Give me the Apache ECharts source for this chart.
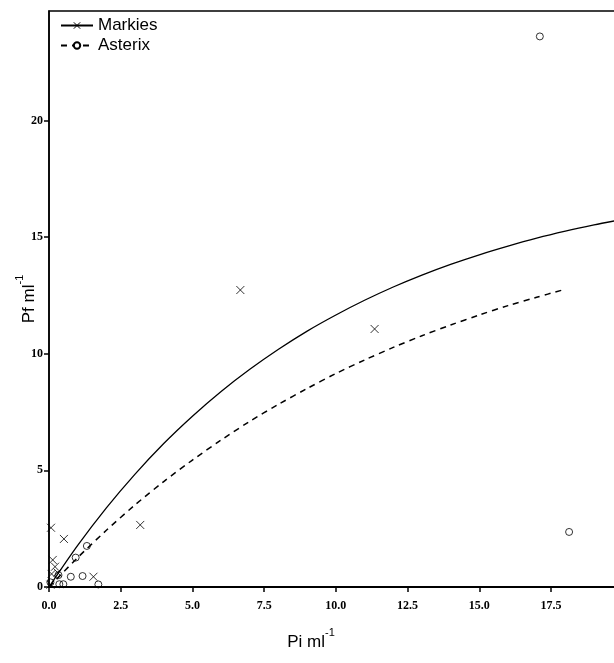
<!DOCTYPE html>
<html>
<head>
<meta charset="utf-8">
<script src="https://cdn.jsdelivr.net/npm/echarts@6/dist/echarts.min.js"></script>
<style>
html,body{margin:0;padding:0;background:#fff;}
#chart{width:614px;height:663px;}
</style>
</head>
<body>
<div id="chart"></div>
<script>
// Observed points (Pi ml-1, Pf ml-1)
const markiesPoints = [
  [0.07, 2.54], [0.52, 2.06], [0.13, 1.16], [0.21, 0.87], [0.09, 0.56],
  [0.30, 0.62], [1.55, 0.44], [0.05, 0.10], [3.18, 2.66], [6.67, 12.73], [11.35, 11.06]
];
const asterixPoints = [
  [0.93, 1.26], [1.32, 1.76], [0.76, 0.44], [1.17, 0.47], [1.72, 0.11],
  [0.33, 0.51], [0.36, 0.12], [0.50, 0.12], [0.05, 0.20], [17.11, 23.60], [18.13, 2.36]
];
// Fitted curves
const markiesCurve = [
  [0, 0], [1, 1.78], [2, 3.39], [3, 4.84], [4, 6.15], [5, 7.32], [6, 8.38], [7, 9.33],
  [8, 10.19], [9, 10.97], [10, 11.66], [11, 12.29], [12, 12.86], [13, 13.37], [14, 13.83],
  [15, 14.24], [16, 14.61], [17, 14.95], [18, 15.25], [19, 15.52], [19.7, 15.69]
];
const asterixCurve = [
  [0, 0], [1, 1.26], [2, 2.43], [3, 3.52], [4, 4.52], [5, 5.44], [6, 6.30], [7, 7.10],
  [8, 7.83], [9, 8.51], [10, 9.15], [11, 9.73], [12, 10.27], [13, 10.77], [14, 11.23],
  [15, 11.66], [16, 12.06], [17, 12.42], [17.9, 12.73]
];
const seriesNames = ['Markies', 'Asterix'];
const xTitle = 'Pi ml';
const yTitle = 'Pf ml';
const unitSup = '-1';

const xSymbol = 'path://M0,0L10,10M10,0L0,10';
const labelFont = {fontFamily: 'Liberation Serif', fontWeight: 'bold', fontSize: 12, color: '#000'};
const titleRich = {
  b: {fontFamily: 'Liberation Sans', fontSize: 17, color: '#000', lineHeight: 24, verticalAlign: 'bottom'},
  s: {fontFamily: 'Liberation Sans', fontSize: 11, color: '#000', lineHeight: 24, verticalAlign: 'top'}
};

const chart = echarts.init(document.getElementById('chart'), null, {renderer: 'canvas'});
chart.setOption({
  animation: false,
  backgroundColor: '#fff',
  grid: {left: 49, top: 11, right: -1, bottom: 76, outerBoundsMode: 'none', containLabel: false,
         show: true, borderColor: '#000', borderWidth: 1.5, backgroundColor: 'transparent'},
  legend: {
    left: 55, top: 12, orient: 'vertical', itemWidth: 32, itemHeight: 8, itemGap: 3,
    textStyle: {fontFamily: 'Liberation Sans', fontSize: 17, color: '#000'},
    data: [
      {name: seriesNames[0], itemStyle: {color: '#000', borderColor: '#000', borderWidth: 1}},
      {name: seriesNames[1], itemStyle: {color: '#000', borderColor: '#000', borderWidth: 1}}
    ]
  },
  xAxis: {
    type: 'value', min: 0, max: 19.73, interval: 2.5,
    name: '{b|' + xTitle + '}{s|' + unitSup + '}', nameLocation: 'middle', nameGap: 40, nameMoveOverlap: false,
    nameTextStyle: {rich: titleRich, padding: [0, 42, 0, 0]},
    axisLine: {show: true, onZero: false, lineStyle: {color: '#000', width: 2}},
    axisTick: {show: true, inside: false, length: 5, lineStyle: {color: '#000', width: 1.5}},
    axisLabel: Object.assign({margin: 13, showMaxLabel: false, formatter: v => v.toFixed(1)}, labelFont),
    splitLine: {show: false}
  },
  yAxis: {
    type: 'value', min: 0, max: 24.69, interval: 5,
    name: '{b|' + yTitle + '}{s|' + unitSup + '}', nameLocation: 'middle', nameGap: 11, nameRotate: 90, nameMoveOverlap: false,
    nameTextStyle: {rich: titleRich},
    axisLine: {show: true, onZero: false, lineStyle: {color: '#000', width: 1.5}},
    axisTick: {show: true, inside: false, length: 5, lineStyle: {color: '#000', width: 1.5}},
    axisLabel: Object.assign({margin: 6, showMaxLabel: false}, labelFont),
    splitLine: {show: false}
  },
  series: [
    {
      name: seriesNames[0], type: 'line', data: markiesCurve, smooth: 0.3,
      symbol: xSymbol, showSymbol: false, symbolSize: 7,
      lineStyle: {color: '#000', width: 1.3, type: 'solid'},
      itemStyle: {color: '#000', borderColor: '#000', borderWidth: 1},
      silent: true, z: 2
    },
    {
      name: seriesNames[1], type: 'line', data: asterixCurve, smooth: 0.3,
      symbol: 'emptyCircle', showSymbol: false, symbolSize: 7,
      lineStyle: {color: '#000', width: 1.5, type: [6, 5]},
      itemStyle: {color: '#000'},
      silent: true, z: 2
    },
    {
      name: seriesNames[0] + ' data', type: 'scatter', data: markiesPoints,
      symbol: xSymbol, symbolSize: 8,
      itemStyle: {color: '#000', borderColor: '#000', borderWidth: 1},
      z: 3
    },
    {
      name: seriesNames[1] + ' data', type: 'scatter', data: asterixPoints,
      symbol: 'circle', symbolSize: 7,
      itemStyle: {color: 'rgba(0,0,0,0)', borderColor: '#000', borderWidth: 1},
      z: 3
    }
  ]
});
</script>
</body>
</html>
